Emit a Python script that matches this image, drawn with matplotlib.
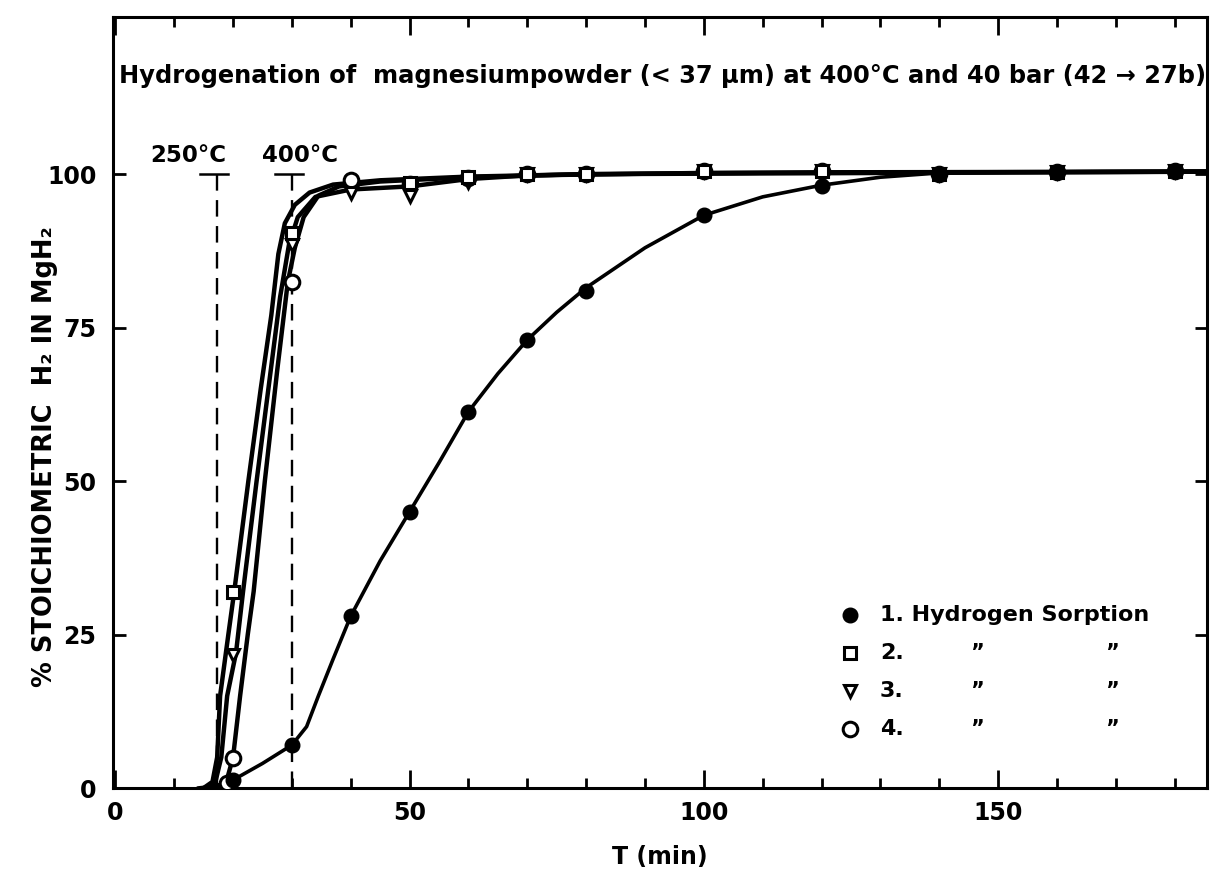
import numpy as np
import matplotlib.pyplot as plt
from matplotlib.ticker import MultipleLocator

plt.rcParams['font.family'] = ['DejaVu Sans']
plt.rcParams['font.weight'] = 'bold'
plt.rcParams['axes.labelweight'] = 'bold'

# measured points (time in min, % stoichiometric H2)
t1 = [20, 30, 40, 50, 60, 70, 80, 100, 120, 140, 160, 180]
y1 = [1.3, 7, 28, 45, 61.3, 73, 81, 93.3, 98, 100, 100.3, 100.5]
t2 = [20, 30, 50, 60, 70, 80, 100, 120, 140, 160, 180]
y2 = [32, 90.4, 98.5, 99.5, 100, 100, 100.5, 100.5, 100, 100.3, 100.5]
t3 = [20, 30, 40, 50, 60, 70, 80, 100, 120, 140, 160, 180]
y3 = [21.7, 88.5, 97, 96.4, 98.8, 100, 100, 100.5, 100.5, 100, 100.3, 100.5]
t4 = [19, 20, 30, 40, 50, 60, 70, 80, 100, 120, 140, 160, 180]
y4 = [0.8, 4.9, 82.4, 99, 98.4, 99.3, 100, 100, 100.5, 100.5, 100, 100.3, 100.5]

# hand drawn curves
c1t = [14, 16, 18, 20, 25, 30, 32.5, 34.5, 37, 40, 45, 50, 55, 60, 65, 70, 75, 80, 90, 100, 110, 120, 130, 140, 160, 185.5]
c1y = [0, 0.2, 0.6, 1.3, 4, 7, 10, 15, 21, 28, 37, 45, 53, 61.3, 67.5, 73, 77.5, 81.5, 88, 93.3, 96.3, 98.2, 99.5, 100.2, 100.4, 100.5]
c2t = [15, 16.5, 17.3, 17.8, 19.2, 20.2, 22.6, 24.7, 26.5, 27.7, 28.8, 30.5, 33, 37, 45, 60, 80, 120, 185.5]
c2y = [0, 1, 5, 15, 25, 32, 50, 65, 77, 87, 92, 95, 97, 98.3, 99, 99.6, 100, 100.3, 100.4]
c3t = [15.5, 17, 18, 19, 20.5, 21.7, 24, 26, 28, 29.5, 31, 34, 40, 50, 60, 70, 100, 185.5]
c3y = [0, 1, 5, 15, 22, 32, 50, 65, 80, 88.5, 93, 96.3, 97.5, 98, 99.2, 99.8, 100.2, 100.4]
c4t = [16.5, 18, 19, 20, 21.2, 22.5, 23.5, 25.4, 27.5, 29.3, 30.5, 32, 34.5, 38, 45, 60, 80, 185.5]
c4y = [0, 0.5, 1.5, 5, 15, 25, 32, 50, 68, 82.4, 88, 93, 96.5, 98, 98.8, 99.5, 100, 100.4]

temp_x = [17.2, 30.0]
temp_labels = ['250°C', '400°C']
legend_labels = ['1. Hydrogen Sorption', '2.', '3.', '4.']

title = 'Hydrogenation of  magnesiumpowder (< 37 µm) at 400°C and 40 bar (42 → 27b)'

fig = plt.figure(figsize=(12.11, 8.76), dpi=100)
ax = fig.add_axes([113/1211, 88/876, 1094/1211, 771/876])

# curves
ax.plot(c1t, c1y, color='black', lw=2.6, solid_capstyle='round', zorder=2)
for ct, cy in [(c2t, c2y), (c3t, c3y), (c4t, c4y)]:
    ax.plot(ct, cy, color='black', lw=3.2, solid_capstyle='round', zorder=2)

# markers
styles = [
    dict(marker='o', ms=10.5, mfc='black', mec='black'),
    dict(marker='s', ms=9, mfc='white', mec='black', mew=2.2),
    dict(marker='v', ms=9, mfc='white', mec='black', mew=2.2),
    dict(marker='o', ms=10.5, mfc='white', mec='black', mew=2.2),
]
series = [(t1, y1), (t2, y2), (t3, y3), (t4, y4)]
for (t, y), st in zip(series[::-1], styles[::-1]):
    ax.plot(t, y, ls='none', zorder=3, **st)

# temperature markers
for x, lab in zip(temp_x, temp_labels):
    ax.plot([x, x], [0, 100], color='black', lw=1.7, ls=(0, (7, 4)), zorder=1)
    ax.plot([x - 2.8, x + 1.9], [100, 100], color='black', lw=1.8, zorder=1)
    ax.text(x - 4.8 + (x > 20) * 6.1, 103, lab, ha='center', va='center', fontsize=16.5)

ax.text(93, 116, title, ha='center', va='center', fontsize=17.4)

# legend drawn by hand
for i, (lab, st) in enumerate(zip(legend_labels, styles)):
    yy = 0.224 - i * 0.049
    ax.plot([0.674], [yy], transform=ax.transAxes, ls='none', clip_on=False, **st)
    ax.text(0.701, yy, lab, transform=ax.transAxes, ha='left', va='center', fontsize=16)
    if i > 0:
        ax.text(0.79, yy, '”', transform=ax.transAxes, ha='center', va='center', fontsize=15)
        ax.text(0.913, yy, '”', transform=ax.transAxes, ha='center', va='center', fontsize=15)

ax.set_xlim(-0.4, 185.5)
ax.set_ylim(0, 125.6)
ax.set_xticks([0, 50, 100, 150])
ax.xaxis.set_minor_locator(MultipleLocator(10))
ax.set_yticks([0, 25, 50, 75, 100])
ax.tick_params(axis='x', which='major', direction='in', top=True, length=13, width=2,
               labelsize=17, pad=9)
ax.tick_params(axis='x', which='minor', direction='in', top=True, length=7, width=2)
ax.tick_params(axis='y', direction='in', right=True, length=9, width=2, labelsize=17, pad=12)
for s in ax.spines.values():
    s.set_linewidth(2.2)

ax.set_xlabel('T (min)', fontsize=17, va='center')
ax.xaxis.set_label_coords(0.5, -0.089)
ax.set_ylabel('% STOICHIOMETRIC  H₂ IN MgH₂', fontsize=18.5, va='center')
ax.yaxis.set_label_coords(-0.062, 0.43)

plt.savefig('out.png', dpi=100)
